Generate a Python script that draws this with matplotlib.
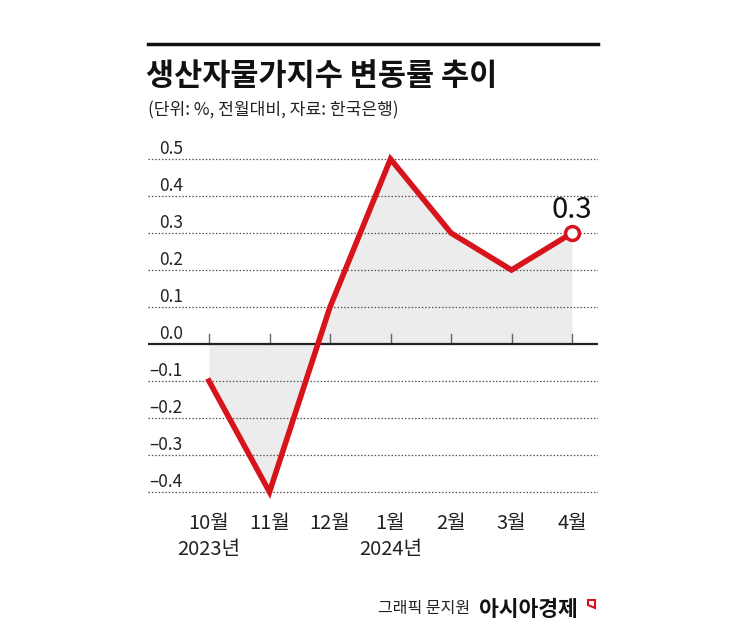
import matplotlib
matplotlib.use("Agg")
import matplotlib.pyplot as plt
from matplotlib.lines import Line2D
from matplotlib.patches import Polygon
import matplotlib.transforms as mtransforms

plt.rcParams['font.family'] = ['Noto Sans CJK KR', 'DejaVu Sans']

months = ['10월', '11월', '12월', '1월', '2월', '3월', '4월']
years = ['2023년', '', '', '2024년', '', '', '']
values = [-0.1, -0.4, 0.1, 0.5, 0.3, 0.2, 0.3]
yticks = [0.5, 0.4, 0.3, 0.2, 0.1, 0.0, -0.1, -0.2, -0.3, -0.4]
ytick_labels = ['0.5', '0.4', '0.3', '0.2', '0.1', '0.0', '\u20130.1', '\u20130.2', '\u20130.3', '\u20130.4']
title = '생산자물가지수 변동률 추이'
subtitle = '(단위: %, 전월대비, 자료: 한국은행)'
credit = '그래픽 문지원'
brand = '아시아경제'

W, H = 745, 636
fig = plt.figure(figsize=(W / 100, H / 100), dpi=100)
fig.patch.set_facecolor('white')

# axes in pixel coordinates
ax_l, ax_r, ax_t, ax_b = 148, 598, 140, 500
ax = fig.add_axes([ax_l / W, 1 - ax_b / H, (ax_r - ax_l) / W, (ax_b - ax_t) / H])
ax.set_facecolor('none')
px_per_x = (572 - 209) / 6
ax.set_xlim(-(209 - ax_l) / px_per_x, 6 + (ax_r - 572) / px_per_x)
px_per_y = 370.0
ax.set_ylim(-(ax_b - 344) / px_per_y, (344 - ax_t) / px_per_y)
for s in ax.spines.values():
    s.set_visible(False)
ax.set_xticks([])
ax.set_yticks([])

x = list(range(len(values)))
red = '#d7141c'

# gridlines
for v in yticks:
    if v == 0:
        ax.axhline(0, color='#222222', lw=1.6, zorder=3)
    else:
        ax.axhline(v, color='#555555', lw=0.9, ls=(0, (1.2, 1.5)), zorder=1)

# fill between line and zero
ax.fill_between(x, values, 0, color='#ececec', lw=0, zorder=0)

# small ticks above zero line
for xi in x:
    ax.plot([xi, xi], [0, 10 / px_per_y], color='#666666', lw=1.0, zorder=2)

# main line
ax.plot(x, values, color=red, lw=4, solid_joinstyle='miter', zorder=4)
ax.plot([x[-1]], [values[-1]], marker='o', ms=10, mfc='white', mec=red, mew=2.5, zorder=5)
ax.text(x[-1], values[-1] + 15 / px_per_y, f'{values[-1]:.1f}', ha='center', va='baseline',
        fontsize=21, color='#111111', zorder=6)

# y tick labels (above gridlines, right aligned)
ylab_trans = mtransforms.blended_transform_factory(ax.transAxes, ax.transData)
for v, lab in zip(yticks, ytick_labels):
    ax.text((183 - ax_l) / (ax_r - ax_l), v + 5 / px_per_y, lab,
            transform=ylab_trans, ha='right', va='baseline', fontsize=12.5, color='#222222')

# x labels
for xi, m, yr in zip(x, months, years):
    ax.text(xi, -(524 - 344) / px_per_y, m, ha='center', va='center', fontsize=14.5, color='#222222')
    if yr:
        ax.text(xi, -(549 - 344) / px_per_y, yr, ha='center', va='center', fontsize=14.5, color='#222222')
for t in ax.texts:
    t.set_clip_on(False)

# top rule
fig.add_artist(Line2D([148 / W, 598 / W], [1 - 44 / H, 1 - 44 / H], color='#111111', lw=2.5))
fig.text(146 / W, 1 - 76 / H, title, fontsize=22, fontweight='bold', ha='left', va='center', color='#111111')
fig.text(148 / W, 1 - 110 / H, subtitle, fontsize=12.3, ha='left', va='center', color='#222222')

# footer
fig.text(470 / W, 1 - 609 / H, credit, fontsize=11.5, ha='right', va='center', color='#222222')
fig.text(479 / W, 1 - 609 / H, brand, fontsize=15.5, fontweight='bold', ha='left', va='center', color='#111111')
icon = Polygon([[588 / W, 1 - 600 / H], [595 / W, 1 - 600 / H], [595 / W, 1 - 608 / H], [588 / W, 1 - 605 / H]],
               closed=True, fill=False, edgecolor=red, lw=1.5, transform=fig.transFigure)
fig.add_artist(icon)

fig.savefig('out.png', dpi=100)
